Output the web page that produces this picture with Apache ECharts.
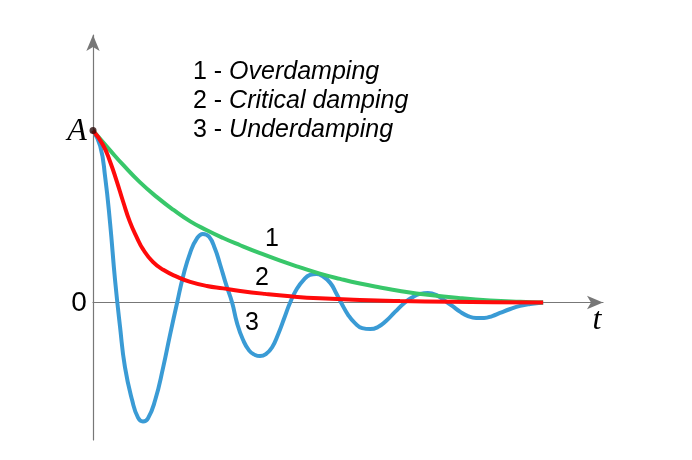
<!DOCTYPE html>
<html>
<head>
<meta charset="utf-8">
<script src="https://cdn.jsdelivr.net/npm/echarts@6/dist/echarts.min.js"></script>
<style>html,body{margin:0;padding:0;background:#fff}#c{width:692px;height:460px}</style>
</head>
<body>
<div id="c"></div>
<script>
// Time axis (arbitrary units, 0..10) and normalised displacement (A = 1)
const overT = [0, 0.38, 0.67, 1.04, 1.42, 1.78, 2.16, 2.53, 2.89, 3.27, 3.71, 4.16, 4.6, 5.04, 5.49, 5.93, 6.38, 6.82, 7.49, 8.16, 8.82, 9.49, 10];
const overY = [1, 0.885, 0.8, 0.7, 0.613, 0.54, 0.472, 0.42, 0.375, 0.333, 0.287, 0.243, 0.204, 0.168, 0.137, 0.11, 0.087, 0.067, 0.043, 0.025, 0.012, 0.004, 0];

const critT = [0, 0.22, 0.38, 0.53, 0.67, 0.82, 0.98, 1.11, 1.33, 1.56, 1.87, 2.16, 2.53, 2.89, 3.27, 3.82, 4.38, 5.04, 5.93, 6.82, 7.93, 8.89, 10];
const critY = [1, 0.918, 0.819, 0.703, 0.586, 0.469, 0.375, 0.31, 0.236, 0.19, 0.149, 0.12, 0.096, 0.082, 0.067, 0.05, 0.036, 0.024, 0.014, 0.008, 0.004, 0.002, 0];

const underT = [0, 0.16, 0.27, 0.38, 0.49, 0.6, 0.71, 0.87, 1.0, 1.11, 1.22, 1.38, 1.56, 1.71, 1.87, 2.0, 2.16, 2.31, 2.44, 2.58, 2.71, 2.82, 2.96, 3.09, 3.2, 3.33, 3.47, 3.6, 3.71, 3.84, 3.98, 4.12, 4.25, 4.38, 4.53, 4.69, 4.82, 4.96, 5.09, 5.27, 5.4, 5.51, 5.67, 5.82, 5.98, 6.16, 6.33, 6.51, 6.71, 6.93, 7.11, 7.27, 7.44, 7.62, 7.82, 7.98, 8.16, 8.33, 8.51, 8.69, 8.87, 9.04, 9.27, 9.49, 9.71, 10];
const underY = [1, 0.91, 0.73, 0.46, 0.13, -0.14, -0.376, -0.569, -0.67, -0.692, -0.675, -0.569, -0.376, -0.19, 0, 0.15, 0.29, 0.373, 0.399, 0.382, 0.312, 0.224, 0.102, 0, -0.12, -0.215, -0.28, -0.305, -0.312, -0.3, -0.26, -0.18, -0.09, 0, 0.08, 0.135, 0.16, 0.166, 0.155, 0.114, 0.055, 0, -0.073, -0.12, -0.149, -0.155, -0.143, -0.108, -0.055, 0, 0.032, 0.05, 0.055, 0.044, 0.009, -0.02, -0.055, -0.079, -0.09, -0.09, -0.079, -0.061, -0.038, -0.02, -0.009, 0];

const legendLines = [['1 - ', 'Overdamping'], ['2 - ', 'Critical damping'], ['3 - ', 'Underdamping']];
const curveLabels = ['1', '2', '3'];
const startPoint = [[0, 1]];

function zip(a, b) { return a.map((v, i) => [v, b[i]]); }

const chart = echarts.init(document.getElementById('c'), null, { renderer: 'canvas' });

const axisColor = '#777777';
const sans = '"Liberation Sans", Arial, sans-serif';
const option = {
  animation: false,
  backgroundColor: '#ffffff',
  grid: { left: 93, right: 89, top: 35, bottom: 20, containLabel: false },
  xAxis: {
    type: 'value', min: 0, max: 11.33,
    axisLine: { show: true, onZero: true, lineStyle: { color: axisColor, width: 1.2 },
      symbol: ['none', 'arrow'], symbolSize: [10, 16], symbolOffset: [0, 0] },
    axisTick: { show: false }, axisLabel: { show: false }, splitLine: { show: false }
  },
  yAxis: {
    type: 'value', min: -0.8, max: 1.556,
    axisLine: { show: true, onZero: true, lineStyle: { color: axisColor, width: 1.2 },
      symbol: ['none', 'arrow'], symbolSize: [10, 16], symbolOffset: [0, 0] },
    axisTick: { show: false }, axisLabel: { show: false }, splitLine: { show: false }
  },
  series: [
    { type: 'line', name: '3', data: zip(underT, underY), smooth: 0.5, showSymbol: false,
      lineStyle: { color: '#3a9bd5', width: 4 }, z: 2 },
    { type: 'line', name: '1', data: zip(overT, overY), smooth: 0.5, showSymbol: false,
      lineStyle: { color: '#38c76a', width: 4 }, z: 3 },
    { type: 'line', name: '2', data: zip(critT, critY), smooth: 0.5, showSymbol: false,
      lineStyle: { color: '#ff0a0a', width: 4 }, z: 4 },
    { type: 'scatter', data: startPoint, symbolSize: 7, itemStyle: { color: '#2a0a0a' }, z: 5 }
  ],
  graphic: [
    ...legendLines.map((l, i) => ({
      type: 'text', left: 193, top: 60 + i * 29, z: 10,
      style: {
        text: l[0] + '{i|' + l[1] + '}',
        font: '25px ' + sans, fill: '#000',
        rich: { i: { fontStyle: 'italic', fontSize: 25, fontFamily: sans, fill: '#000' } }
      }
    })),
    { type: 'text', x: 272, y: 239, z: 10, style: { text: curveLabels[0], font: '25px ' + sans, fill: '#000', align: 'center', verticalAlign: 'middle' } },
    { type: 'text', x: 262, y: 278, z: 10, style: { text: curveLabels[1], font: '25px ' + sans, fill: '#000', align: 'center', verticalAlign: 'middle' } },
    { type: 'text', x: 252, y: 323, z: 10, style: { text: curveLabels[2], font: '25px ' + sans, fill: '#000', align: 'center', verticalAlign: 'middle' } },
    { type: 'text', x: 77, y: 132, z: 10, style: { text: 'A', font: 'italic 32px "Liberation Serif", "Times New Roman", serif', fill: '#000', align: 'center', verticalAlign: 'middle' } },
    { type: 'text', x: 79, y: 303, z: 10, style: { text: '0', font: '28px ' + sans, fill: '#000', align: 'center', verticalAlign: 'middle' } },
    { type: 'text', x: 597, y: 321, z: 10, style: { text: 't', font: 'italic 32px "Liberation Serif", "Times New Roman", serif', fill: '#000', align: 'center', verticalAlign: 'middle' } }
  ]
};
chart.setOption(option);
</script>
</body>
</html>
